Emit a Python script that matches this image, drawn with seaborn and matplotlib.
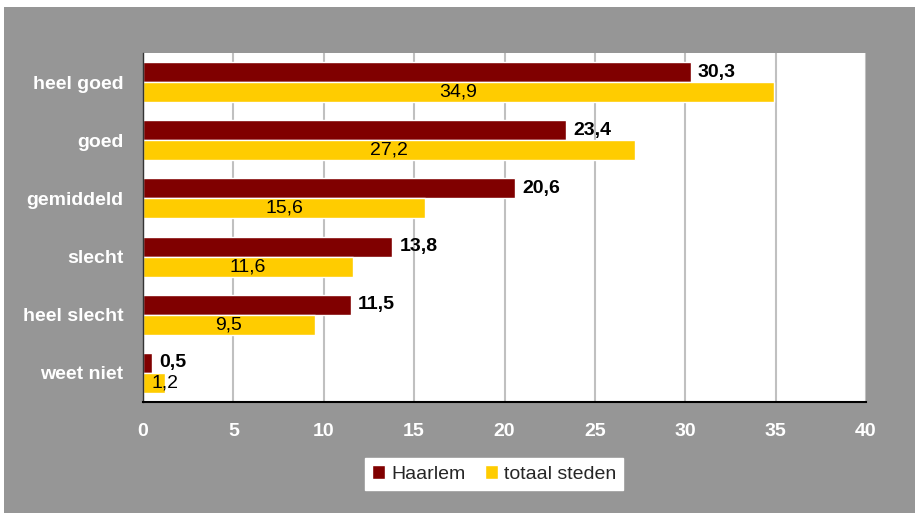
import pandas as pd
import seaborn as sns
import matplotlib.pyplot as plt
from matplotlib.patches import Rectangle

# waarden
categorieen = ["heel goed", "goed", "gemiddeld", "slecht", "heel slecht", "weet niet"]
haarlem = [30.3, 23.4, 20.6, 13.8, 11.5, 0.5]
totaal_steden = [34.9, 27.2, 15.6, 11.6, 9.5, 1.2]
reeksen = ["Haarlem", "totaal steden"]
kleuren = ["#800000", "#FFCC00"]
x_ticks = [0, 5, 10, 15, 20, 25, 30, 35, 40]

df = pd.DataFrame({
    "categorie": categorieen * 2,
    "reeks": [reeksen[0]] * len(categorieen) + [reeksen[1]] * len(categorieen),
    "waarde": haarlem + totaal_steden,
})

sns.set_theme(style="white")
plt.rcParams['font.family'] = ['Liberation Sans', 'DejaVu Sans']

fig = plt.figure(figsize=(9.15, 5.13), dpi=100)
fig.patch.set_facecolor("white")
# grijze achtergrond zoals in Excel
fig.patches.append(Rectangle((4 / 915, 0), 1, 1 - 7 / 513, transform=fig.transFigure,
                             facecolor="#969696", edgecolor="none", zorder=-10))

ax = fig.add_axes([143 / 915, 1 - 402 / 513, (866 - 143) / 915, (402 - 53) / 513])
ax.set_facecolor("white")

sns.barplot(data=df, y="categorie", x="waarde", hue="reeks", orient="h",
            palette=kleuren, width=0.69, ax=ax, saturation=1, legend=True)

ax.set_xlim(0, 40)
ax.set_ylim(len(categorieen) - 0.5, -0.5)
ax.set_xticks(x_ticks)
ax.set_xticklabels([str(t) for t in x_ticks], color="white", fontweight="bold", fontsize=14)
ax.xaxis.grid(True, color="#c0c0c0", linewidth=1.5)
ax.set_axisbelow(True)
ax.tick_params(axis="x", direction="out", length=5, width=1.5, color="black", pad=10)

# labels in het midden, streepjes op de grenzen
ax.set_yticks(range(len(categorieen)))
ax.set_yticklabels(categorieen, color="white", fontweight="bold", fontsize=14)
ax.tick_params(axis="y", which="major", length=0, pad=14)
ax.set_yticks([i - 0.5 for i in range(len(categorieen) + 1)], minor=True)
ax.tick_params(axis="y", which="minor", direction="out", length=5, width=1, color="#333333")

ax.set_xlabel("")
ax.set_ylabel("")
for s in ["top", "right"]:
    ax.spines[s].set_visible(False)
ax.spines["left"].set_color("#333333")
ax.spines["left"].set_linewidth(1)
ax.spines["bottom"].set_color("black")
ax.spines["bottom"].set_linewidth(1.5)

# waardelabels
dy = 0.69 / 4
for i, (h, t) in enumerate(zip(haarlem, totaal_steden)):
    ax.annotate(f"{h:.1f}".replace(".", ","), xy=(h, i - dy), xytext=(5, 0),
                textcoords="offset points", va="center", ha="left",
                fontsize=14, fontweight="bold", color="black")
    ax.text(max(t / 2, 1.2), i + dy, f"{t:.1f}".replace(".", ","),
            va="center", ha="center", fontsize=14, color="black")

leg = ax.legend(loc="center", bbox_to_anchor=(494 / 915, 1 - 474 / 513),
                bbox_transform=fig.transFigure, ncol=2, frameon=True, fancybox=False,
                fontsize=14, handlelength=0.7, handleheight=0.7, handletextpad=0.3,
                columnspacing=1.0, borderpad=0.35, borderaxespad=0)
leg.get_frame().set_edgecolor("white")
leg.get_frame().set_facecolor("white")
leg.get_frame().set_alpha(1)

plt.savefig("out.png", dpi=100, facecolor=fig.get_facecolor())
